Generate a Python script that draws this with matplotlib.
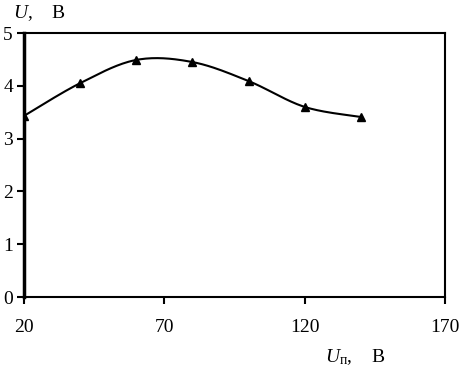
import numpy as np
import matplotlib
matplotlib.use("Agg")
import matplotlib.pyplot as plt

plt.rcParams["font.family"] = ["Liberation Serif", "DejaVu Serif"]
plt.rcParams["mathtext.fontset"] = "custom"
plt.rcParams["mathtext.rm"] = "Liberation Serif"
plt.rcParams["mathtext.it"] = "Liberation Serif:italic"

# данные
u_p = [20, 40, 60, 80, 100, 120, 140]
u = [3.43, 4.05, 4.49, 4.45, 4.09, 3.60, 3.41]
x_ticks = [20, 70, 120, 170]
y_ticks = [0, 1, 2, 3, 4, 5]


def smooth(xs, ys, n=30):
    # сглаживание как в Excel (кривые Безье, Catmull-Rom)
    xs = np.asarray(xs, float)
    ys = np.asarray(ys, float)
    px = np.concatenate([[xs[0]], xs, [xs[-1]]])
    py = np.concatenate([[ys[0]], ys, [ys[-1]]])
    ox, oy = [], []
    t = np.linspace(0, 1, n)
    for i in range(1, len(px) - 2):
        p0 = np.array([px[i], py[i]])
        p3 = np.array([px[i + 1], py[i + 1]])
        c1 = p0 + (p3 - np.array([px[i - 1], py[i - 1]])) / 6.0
        c2 = p3 - (np.array([px[i + 2], py[i + 2]]) - p0) / 6.0
        b = ((1 - t) ** 3)[:, None] * p0 + (3 * (1 - t) ** 2 * t)[:, None] * c1 \
            + (3 * (1 - t) * t ** 2)[:, None] * c2 + (t ** 3)[:, None] * p3
        ox.extend(b[:, 0])
        oy.extend(b[:, 1])
    return ox, oy


fig = plt.figure(figsize=(4.6, 3.69), dpi=100)
ax = fig.add_axes([24 / 460, 72 / 369, 421 / 460, 264 / 369])

sx, sy = smooth(u_p, u)
ax.plot(sx, sy, color="black", lw=1.5)
ax.plot(u_p, u, "^", color="black", ms=6, lw=0)

ax.set_xlim(20, 170)
ax.set_ylim(0, 5)
ax.set_xticks(x_ticks)
ax.set_yticks(y_ticks)
ax.tick_params(axis="x", direction="out", length=5, width=1.5, pad=11, labelsize=14)
ax.tick_params(axis="y", direction="out", length=5, width=1.5, pad=3, labelsize=14)
for s in ax.spines.values():
    s.set_linewidth(1.5)
ax.spines["left"].set_linewidth(2.5)

fig.text(13 / 460, 1 - 13 / 369, r"$\it{U}$,    В", fontsize=14, ha="left", va="center")
fig.text(325 / 460, 1 - 357 / 369, r"$\it{U}_{\rm п}$,    В", fontsize=14, ha="left", va="center")

fig.savefig("out.png", dpi=100)
